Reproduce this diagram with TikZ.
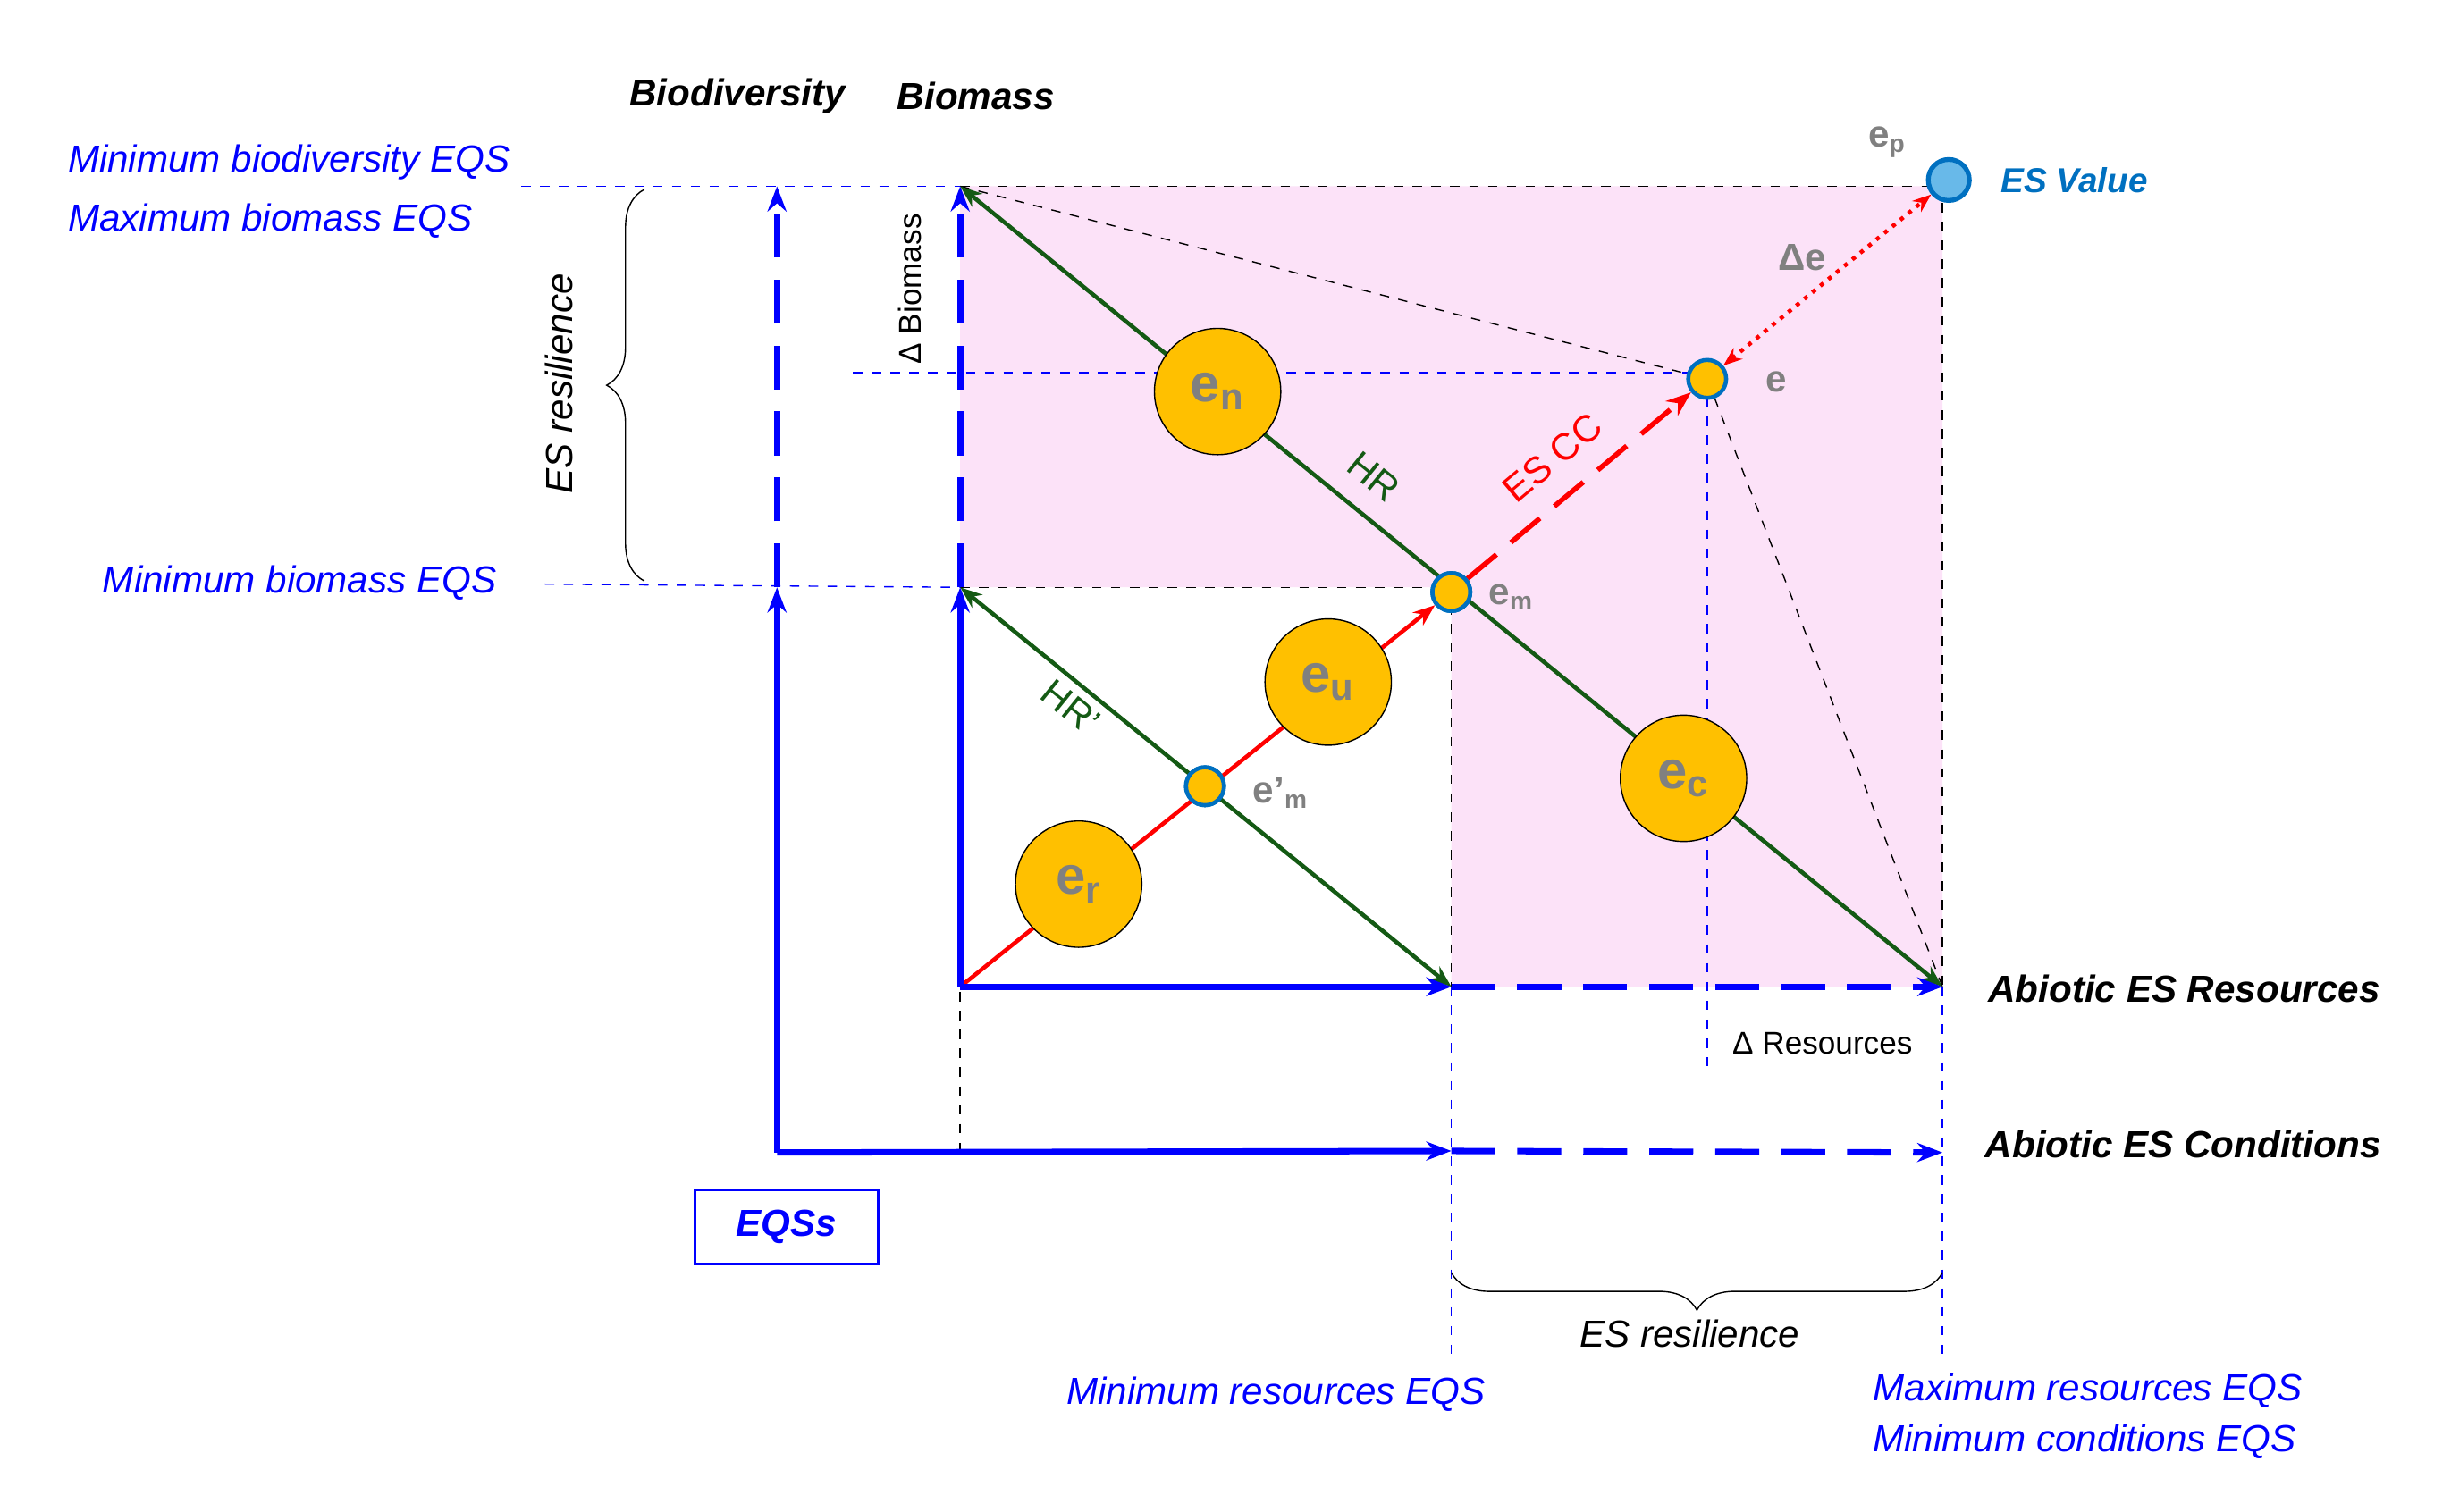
\documentclass[tikz,border=0pt]{standalone}
\usepackage{fontspec}
\setmainfont{Liberation Sans}
\usetikzlibrary{arrows.meta,decorations.pathreplacing,patterns}
\definecolor{gold}{RGB}{255,192,0}
\definecolor{dgreen}{RGB}{20,90,20}
\definecolor{eblue}{RGB}{0,112,192}
\definecolor{pinkf}{RGB}{252,226,248}
\begin{document}
\begin{tikzpicture}[x=0.01767cm,y=-0.01767cm,
 lbl/.style={font=\itshape\fontsize{12}{14}\selectfont,text=blue},
 ax/.style={font=\bfseries\itshape\fontsize{12}{14}\selectfont},
 big/.style={circle,draw=black,fill=gold,minimum size=80*0.01767cm,inner sep=0,font=\bfseries\fontsize{17}{19}\selectfont,text=gray},
 sm/.style={circle,draw=eblue,line width=1.3pt,fill=gold,minimum size=24*0.01767cm,inner sep=0},
 bk/.style={black,dashed,thin},
 bd/.style={blue,dashed,thin},
 gr/.style={dgreen,line width=1.3pt,{Stealth[open,length=7pt]}-{Stealth[open,length=7pt]}},
 bax/.style={blue,line width=2pt,-{Stealth[length=8pt]}},
 baxd/.style={bax,dash pattern=on 14pt off 7pt}]
\useasboundingbox (0,0) rectangle (1552,957.6);
\fill[pinkf] (608,118)--(1230,118)--(1230,625)--(919,625)--(919,372)--(608,372)--cycle;
\coordinate (O) at (608,625);
\coordinate (B1) at (608,372);
\coordinate (B2) at (608,118);
\coordinate (R1) at (919,625);
\coordinate (R2) at (1230,625);
\coordinate (TR) at (1230,118);
\coordinate (OO) at (492,730);
\coordinate (C1) at (492,372);
\coordinate (C2) at (492,118);
\coordinate (D1) at (919,729);
\coordinate (D2) at (1230,730);
\draw[bk] (B2)--(TR)--(R2);
\draw[bk] (B1)--(919,372)--(R1);
\draw[bk] (B2)--(1081,240)--(R2);
\draw[bk] (492,625)--(O)--(608,730);
\coordinate (l1) at (330,118); \coordinate (l2) at (345,370); \coordinate (l3) at (540,236);
\coordinate (l4) at (1081,675); \coordinate (l5) at (919,860); \coordinate (l6) at (1230,860);
\draw[bd] (l1)--(B2); \draw[bd] (l2)--(B1); \draw[bd] (l3)--(1081,236);
\draw[bd] (1081,240)--(l4); \draw[bd] (R1)--(l5); \draw[bd] (R2)--(l6);
\draw[gr] (B2)--(R2);
\draw[gr] (B1)--(R1);
\node[sm] (em) at (919,375) {};
\node[sm] (e) at (1081,240) {};
\node[sm] (emp) at (763,498) {};
\node[circle,draw=eblue,line width=1.5pt,fill=cyan!80!blue!60,minimum size=26*0.01767cm,inner sep=0] (ep) at (1234,114) {};
\draw[red,line width=1.3pt,-{Stealth[open,length=7pt]}] (O)--(em);
\draw[red,line width=1.6pt,dash pattern=on 12pt off 6pt,-{Stealth[open,length=8pt]}] (em)--(e);
\draw[red,line width=1.3pt,dotted,{Stealth[length=6pt]}-{Stealth[length=6pt]}] (e)--(ep);
\node[sm] at (em) {}; \node[sm] at (emp) {};
\node[big] (en) at (771,248) {e\textsubscript{n}};
\node[big] (eu) at (841,432) {e\textsubscript{u}};
\node[big] (ec) at (1066,493) {e\textsubscript{c}};
\node[big] (er) at (683,560) {e\textsubscript{r}};
\draw[bax] (O)--(B1); \draw[baxd] (B1)--(B2);
\draw[bax] (O)--(R1); \draw[baxd] (R1)--(R2);
\draw[bax] (OO)--(C1); \draw[baxd] (C1)--(C2);
\draw[bax] (OO)--(D1); \draw[baxd] (D1)--(D2);
\node[ax] (bd) at (467,61) {Biodiversity};
\node[ax] (bm) at (618,61) {Biomass};
\node[lbl,anchor=west] at (36,103) {Minimum biodiversity EQS};
\node[lbl,anchor=west] at (36,140) {Maximum biomass EQS};
\node[lbl,anchor=west] at (58,369) {Minimum biomass EQS};
\node[lbl] at (808,883) {Minimum resources EQS};
\node[lbl] at (1322,881) {Maximum resources EQS};
\node[lbl] at (1320,913) {Minimum conditions EQS};
\node[ax,anchor=west] at (1252,626) {Abiotic ES Resources};
\node[ax,anchor=west] at (1250,725) {Abiotic ES Conditions};
\node[draw=blue,thick,minimum width=116*0.01767cm,minimum height=47*0.01767cm,font=\bfseries\itshape\fontsize{12}{14}\selectfont,text=blue] (eqs) at (498,777) {EQSs};
\node[font=\bfseries\itshape\fontsize{11}{13}\selectfont,text=eblue,anchor=west] at (1260,114) {ES Value};
\node[font=\bfseries\fontsize{12}{14}\selectfont,text=gray] at (1195,90) {e\textsubscript{p}};
\node[font=\bfseries\fontsize{12}{14}\selectfont,text=gray] at (1141,163) {Δe};
\node[font=\bfseries\fontsize{12}{14}\selectfont,text=gray] at (1125,242) {e};
\node[font=\bfseries\fontsize{12}{14}\selectfont,text=gray] at (957,378) {e\textsubscript{m}};
\node[font=\bfseries\fontsize{12}{14}\selectfont,text=gray] at (811,502) {e’\textsubscript{m}};
\node[font=\fontsize{12}{14}\selectfont,text=dgreen,rotate=-39] at (870,302) {HR};
\node[font=\fontsize{12}{14}\selectfont,text=dgreen,rotate=-39] at (678,448) {HR’};
\node[font=\fontsize{12}{14}\selectfont,text=red,rotate=40] at (983,290) {ES CC};
\node[font=\fontsize{10}{12}\selectfont,rotate=90] at (576,183) {Δ Biomass};
\node[font=\fontsize{10}{12}\selectfont] at (1154,661) {Δ Resources};
\node[font=\itshape\fontsize{12}{14}\selectfont,rotate=90] at (354,243) {ES resilience};
\node[font=\itshape\fontsize{12}{14}\selectfont] at (1070,845) {ES resilience};
\draw[decorate,decoration={brace,amplitude=12pt}] (408,368)--(408,120);
\draw[decorate,decoration={brace,amplitude=12pt}] (1230,806)--(919,806);
\end{tikzpicture}
\end{document}
